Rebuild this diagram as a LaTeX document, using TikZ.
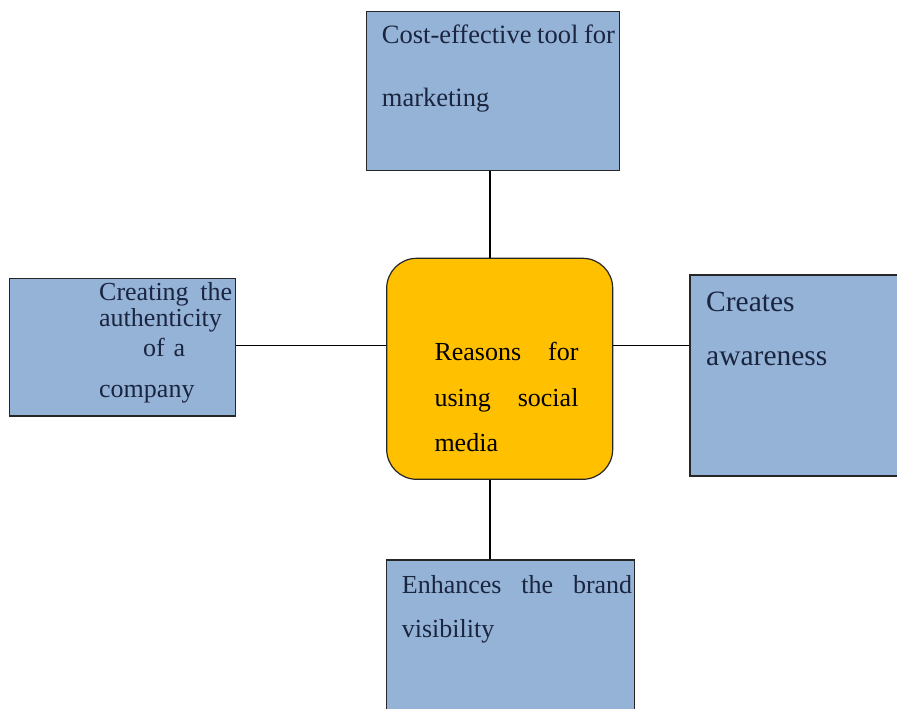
\documentclass[tikz,border=0pt]{standalone}
\usepackage{fontspec}
\setmainfont{Liberation Serif}
\usepackage{tikz}
\usetikzlibrary{calc}
\definecolor{boxblue}{HTML}{95B3D7}
\definecolor{boxorange}{HTML}{FFC000}
\definecolor{boxline}{HTML}{262626}
\definecolor{inknavy}{HTML}{1A2540}
\tikzstyle{bluebox}=[rectangle,draw=boxline,fill=boxblue,line width=1.2pt,inner sep=0pt]
\tikzstyle{orangebox}=[rectangle,rounded corners=30pt,draw=boxline,fill=boxorange,
                       line width=1.2pt,inner sep=0pt]
\tikzstyle{boxtext}=[anchor=base west,inner sep=0pt,align=left,text=inknavy]
\tikzstyle{link}=[draw=black,line width=1.2pt]
\newcommand\jline[3]{\makebox[#1]{#2\hfill#3}}
\newcommand\textsize[2]{\fontsize{#1}{#2}\selectfont}

\begin{document}
\begin{tikzpicture}[x=1pt,y=-1pt]
    	\fill[white] (0,0) rectangle (897,709);
    	\clip (0,0) rectangle (897,709);
    	\coordinate (spine) at (490,0);
    	\coordinate (level) at (0,345.5);
    	% boxes
    	\node [orangebox,minimum width=226pt,minimum height=221pt] (centerbox) at (499.7,368.8) {};
    	\node [bluebox,minimum width=252.6pt,minimum height=159pt] (topbox) at (493,91.2) {};
    	\node [bluebox,minimum width=226pt,minimum height=137.7pt] (leftbox) at (122.3,347.2) {};
    	\node [bluebox,minimum width=215pt,minimum height=201pt] (rightbox) at (797.5,375.5) {};
    	\node [bluebox,minimum width=247.6pt,minimum height=170pt] (bottombox) at (510.5,645) {};
    	% texts
    	\node [boxtext,text width=250pt,font=\textsize{26.5}{63}] (toptext) at (381.7,44) {
    		\makebox[233pt]{Cost-effective\hfill tool\hfill for}\\ marketing
    	};
    	\node [boxtext,text width=140pt,font=\textsize{26}{26}] (lefttext) at (99,300.7) {
    		\jline{133pt}{Creating}{the}\\ authenticity\\[4pt]
    		\hspace*{44pt}of a\\[15pt] company
    	};
    	\node [boxtext,text=black,text width=150pt,font=\textsize{26}{45.5}] (centertext) at (434.3,360.7) {
    		\jline{144pt}{Reasons}{for}\\ \jline{144pt}{using}{social}\\ media
    	};
    	\node [boxtext,text width=180pt,font=\textsize{29.5}{53.3}] (righttext) at (706,311.7) {
    		Creates\\ awareness
    	};
    	\node [boxtext,text width=236pt,font=\textsize{26}{44}] (bottomtext) at (401.7,593) {
    		\makebox[230.3pt]{Enhances\hfill the\hfill brand}\\ visibility
    	};
    	% connectors
    	\draw [link] (spine |- topbox.south) -- (spine |- centerbox.north);
    	\draw [link] (spine |- centerbox.south) -- (spine |- bottombox.north);
    	\draw [link] (level -| leftbox.east) -- (level -| centerbox.west);
    	\draw [link] (level -| centerbox.east) -- (level -| rightbox.west);
    \end{tikzpicture}
\end{document}
